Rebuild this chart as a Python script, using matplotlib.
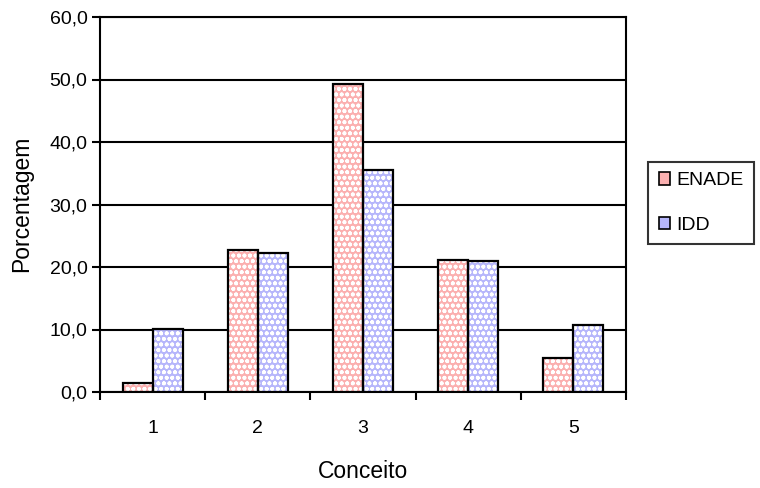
import matplotlib
matplotlib.use("Agg")
import matplotlib.pyplot as plt
import numpy as np
from matplotlib.patches import Patch

categories = ["1", "2", "3", "4", "5"]
enade = [1.5, 22.7, 49.3, 21.2, 5.5]
idd = [10.1, 22.3, 35.6, 20.9, 10.8]
yticks = [0, 10, 20, 30, 40, 50, 60]
ytick_labels = ["0,0", "10,0", "20,0", "30,0", "40,0", "50,0", "60,0"]

plt.rcParams['font.family'] = ['Liberation Sans', 'DejaVu Sans']
plt.rcParams['hatch.linewidth'] = 1.2

fig = plt.figure(figsize=(7.6, 4.88), dpi=100)
ax = fig.add_axes([100/760, 1-392/488, 526/760, 375/488])

x = np.arange(len(categories))
w = 1/3.5
pink = '#fbb0b0'
blue = '#b6b6fb'

for vals, col, off in [(enade, pink, -w/2), (idd, blue, w/2)]:
    ax.bar(x + off, vals, width=w, color=col, edgecolor='white', hatch='ooo', linewidth=0, zorder=3)
    ax.bar(x + off, vals, width=w, facecolor='none', edgecolor='black', linewidth=1.6, zorder=4)

ax.set_xlim(-0.5, len(categories) - 0.5)
ax.set_ylim(0, 60)
ax.set_yticks(yticks)
ax.set_yticklabels(ytick_labels, fontsize=14)
ax.yaxis.grid(True, color='black', linewidth=1.5, zorder=1)
ax.set_axisbelow(True)
ax.set_xticks(x)
ax.set_xticklabels(categories, fontsize=14)
ax.tick_params(axis='x', which='major', length=0, pad=20)
ax.set_xticks(np.arange(-0.5, len(categories)), minor=True)
ax.tick_params(axis='x', which='minor', length=6, width=1.5, direction='out')
ax.tick_params(axis='y', length=6, width=1.5, direction='out', pad=3)
for s in ax.spines.values():
    s.set_linewidth(1.5)
    s.set_color('black')

fig.text(363/760, 1-472/488, "Conceito", fontsize=16.5, ha='center', va='center')
fig.text(22/760, 1-204/488, "Porcentagem", fontsize=16.5, ha='center', va='center', rotation=90)

handles = [Patch(facecolor=pink, edgecolor='black', linewidth=1.2, label='ENADE'),
           Patch(facecolor=blue, edgecolor='black', linewidth=1.2, label='IDD')]
leg = fig.legend(handles=handles, loc='center left', bbox_to_anchor=(648/760, 1-203/488),
                 fontsize=14, frameon=True, fancybox=False, edgecolor='black',
                 handlelength=0.6, handleheight=0.6, handletextpad=0.3, labelspacing=1.4,
                 borderpad=0.55, borderaxespad=0)
leg.get_frame().set_linewidth(1.5)

fig.savefig("out.png", dpi=100)
